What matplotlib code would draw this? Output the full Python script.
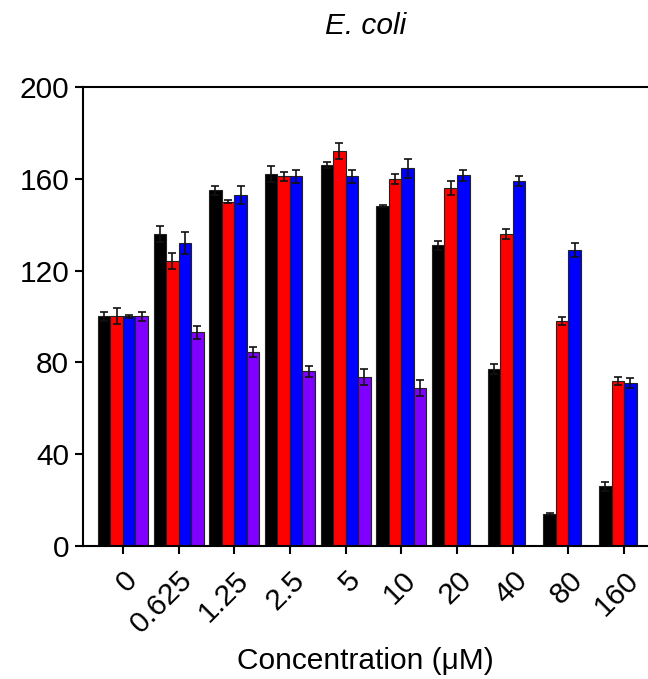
import numpy as np
import matplotlib
matplotlib.use("Agg")
import matplotlib.pyplot as plt

plt.rcParams['font.family'] = ['Liberation Sans', 'DejaVu Sans']

concs = ['0', '0.625', '1.25', '2.5', '5', '10', '20', '40', '80', '160']

# four treatments, % of control (purple not measured above 10 uM)
black = [100, 136, 155, 162, 166, 148, 131, 77, 14, 26]
black_err = [2, 3.6, 2, 3.4, 1.5, 0.5, 2, 2.2, 0.5, 2]
red = [100, 124, 150, 161, 172, 160, 156, 136, 98, 72]
red_err = [3.5, 3.5, 0.8, 1.8, 3.4, 2.2, 2.9, 2.2, 1.6, 1.7]
blue = [100, 132, 153, 161, 161, 164.5, 161.5, 159, 129, 71]
blue_err = [0.8, 4.6, 4, 3, 3, 4.3, 2.3, 2.3, 3.2, 2.1]
purple = [100, 93, 84.5, 76, 73.5, 69, np.nan, np.nan, np.nan, np.nan]
purple_err = [1.8, 2.9, 2, 2.2, 3.4, 3.5, np.nan, np.nan, np.nan, np.nan]

series = [(black, black_err, '#000000'),
          (red, red_err, '#ff0000'),
          (blue, blue_err, '#0000ff'),
          (purple, purple_err, '#7f00ff')]

fig = plt.figure(figsize=(6.48, 6.79), dpi=100)
ax = fig.add_axes([0.128, 0.196, 0.872, 0.676])

x = np.arange(len(concs))
w = 0.225
for i, (vals, errs, col) in enumerate(series):
    pos = x + (i - 1.5) * w
    ax.bar(pos, vals, width=w, color=col, edgecolor='#222222', linewidth=0.8,
           yerr=errs, capsize=2.8, error_kw=dict(elinewidth=1.2, capthick=1.2, ecolor='#111111'))

ax.set_xlim(-0.718, 9.43)
ax.set_ylim(0, 200)
ax.set_yticks(range(0, 201, 40))
ax.set_xticks(x)
ax.set_xticklabels(concs, rotation=45, ha='right', rotation_mode='anchor')

for side in ['left', 'bottom', 'top']:
    ax.spines[side].set_linewidth(1.5)
ax.spines['right'].set_visible(False)
ax.tick_params(axis='both', direction='out', length=5.5, width=1.5, labelsize=21.5, pad=4.5)
ax.tick_params(axis='x', pad=9)

ax.set_xlabel('Concentration (μM)', fontsize=21.5, labelpad=6)
ax.set_title('E. coli', fontsize=21.5, style='italic', pad=38)

fig.savefig('out.png', dpi=100)
